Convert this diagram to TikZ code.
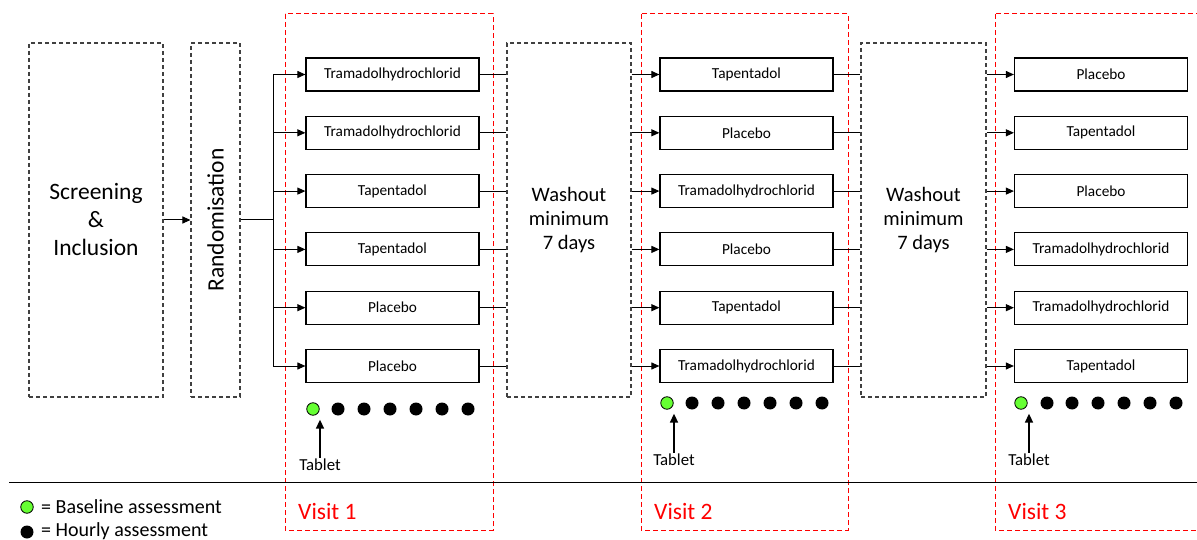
\documentclass[tikz,border=0pt]{standalone}
\usepackage{fontspec}
\setmainfont{Carlito}
\usetikzlibrary{arrows.meta}
\begin{document}
\begin{tikzpicture}[x=1pt,y=-1pt,
  drug/.style={draw=black,line width=1.2pt,minimum width=173pt,minimum height=33pt,inner sep=0pt,font=\fontsize{15.3}{17}\selectfont},
  phase/.style={draw=black!75,line width=1.1pt,dash pattern=on 4pt off 3pt,minimum width=#1,minimum height=354pt,inner sep=0pt,align=center},
  visitbox/.style={draw=red,line width=1pt,dash pattern=on 5pt off 3pt},
  visitlab/.style={text=red,anchor=west,inner sep=0pt,font=\fontsize{23.5}{26}\selectfont},
  link/.style={draw=black,line width=1pt},
  arr/.style={draw=black,line width=1pt,-{Triangle[length=8pt,width=7pt]}},
  tabarr/.style={draw=black,line width=1.6pt,-{Triangle[length=9pt,width=8pt]}},
  base/.style={circle,draw=black,line width=0.8pt,fill=lgreen,minimum size=12.5pt,inner sep=0pt},
  hour/.style={circle,fill=black,minimum size=13pt,inner sep=0pt},
  tablab/.style={inner sep=1pt,font=\fontsize{16.8}{18}\selectfont},
  legtext/.style={anchor=west,inner sep=0pt,font=\fontsize{20}{22}\selectfont}
]
\definecolor{lgreen}{RGB}{102,255,51}
\useasboundingbox (0,0) rectangle (1197,540);

% visit frames
\draw[visitbox] (285,14) rectangle (493,530);
\draw[visitbox] (641,14) rectangle (848,530);
\draw[visitbox] (995,14) rectangle (1210,530);

% phases
\node[phase=134pt,font=\fontsize{23.5}{28}\selectfont] (scr) at (96,220) {Screening\\\&\\Inclusion};
\node[phase=49pt] (rand) at (215.5,220) {};
\node[rotate=90,font=\fontsize{23.5}{28}\selectfont] (randtxt) at (rand.center) {Randomisation};
\node[phase=124pt,font=\fontsize{20.5}{24}\selectfont] (w1) at (569,220) {Washout\\minimum\\7 days};
\node[phase=125pt,font=\fontsize{20.5}{24}\selectfont] (w2) at (923.5,220) {Washout\\minimum\\7 days};

% drug boxes
\foreach \i/\a/\b/\c in {1/Tramadolhydrochlorid/Tapentadol/Placebo,
                         2/Tramadolhydrochlorid/Placebo/Tapentadol,
                         3/Tapentadol/Tramadolhydrochlorid/Placebo,
                         4/Tapentadol/Placebo/Tramadolhydrochlorid,
                         5/Placebo/Tapentadol/Tramadolhydrochlorid,
                         6/Placebo/Tramadolhydrochlorid/Tapentadol}{
  \pgfmathsetmacro{\yy}{74.5+58.3*(\i-1)}
  \node[drug] (a\i) at (392.5,\yy) {\a};
  \node[drug] (b\i) at (746.5,\yy) {\b};
  \node[drug] (c\i) at (1101,\yy) {\c};
}

% connectors
\draw[arr] (scr.east) -- (rand.west);
\coordinate (split) at (273,220);
\draw[link] (rand.east) -- (split);
\draw[link] (split |- a1) -- (split |- a6);
\foreach \i in {1,...,6}{
  \draw[arr] (split |- a\i) -- (a\i.west);
  \draw[link] (a\i.east) -- (a\i -| w1.west);
  \draw[arr] (w1.east |- b\i) -- (b\i.west);
  \draw[link] (b\i.east) -- (b\i -| w2.west);
  \draw[arr] (w2.east |- c\i) -- (c\i.west);
}

% assessment dots
\node[base] (g1) at (313,409) {};
\foreach \k/\x in {1/338,2/364,3/390,4/416,5/442,6/468}{\node[hour] (h1\k) at (\x,409) {};}
\node[base] (g2) at (667,403) {};
\foreach \k/\x in {1/692,2/718,3/744,4/770,5/796,6/822}{\node[hour] (h2\k) at (\x,403) {};}
\node[base] (g3) at (1021,403) {};
\foreach \k/\x in {1/1047,2/1072,3/1098,4/1124,5/1150,6/1176}{\node[hour] (h3\k) at (\x,403) {};}

% tablets
\node[tablab] (t1) at (320,465) {Tablet};
\node[tablab] (t2) at (674,460) {Tablet};
\node[tablab] (t3) at (1029,460) {Tablet};
\draw[tabarr,shorten >=4pt] (t1.north) -- (t1.north |- g1.south);
\draw[tabarr,shorten >=4pt] (t2.north) -- (t2.north |- g2.south);
\draw[tabarr,shorten >=4pt] (t3.north) -- (t3.north |- g3.south);

% separator
\coordinate (sepL) at (9,482);
\coordinate (sepR) at (1197,482);
\draw[line width=1pt] (sepL) -- (sepR);

% visit labels
\node[visitlab] (v1) at (298,511) {Visit 1};
\node[visitlab] (v2) at (654,511) {Visit 2};
\node[visitlab] (v3) at (1008,511) {Visit 3};

% legend
\node[base] (lg) at (27,507) {};
\node[legtext] (lgt) at (41,507) {= Baseline assessment};
\node[hour] (lh) at (27,532) {};
\node[legtext] (lht) at (41,531) {= Hourly assessment};
\end{tikzpicture}
\end{document}
